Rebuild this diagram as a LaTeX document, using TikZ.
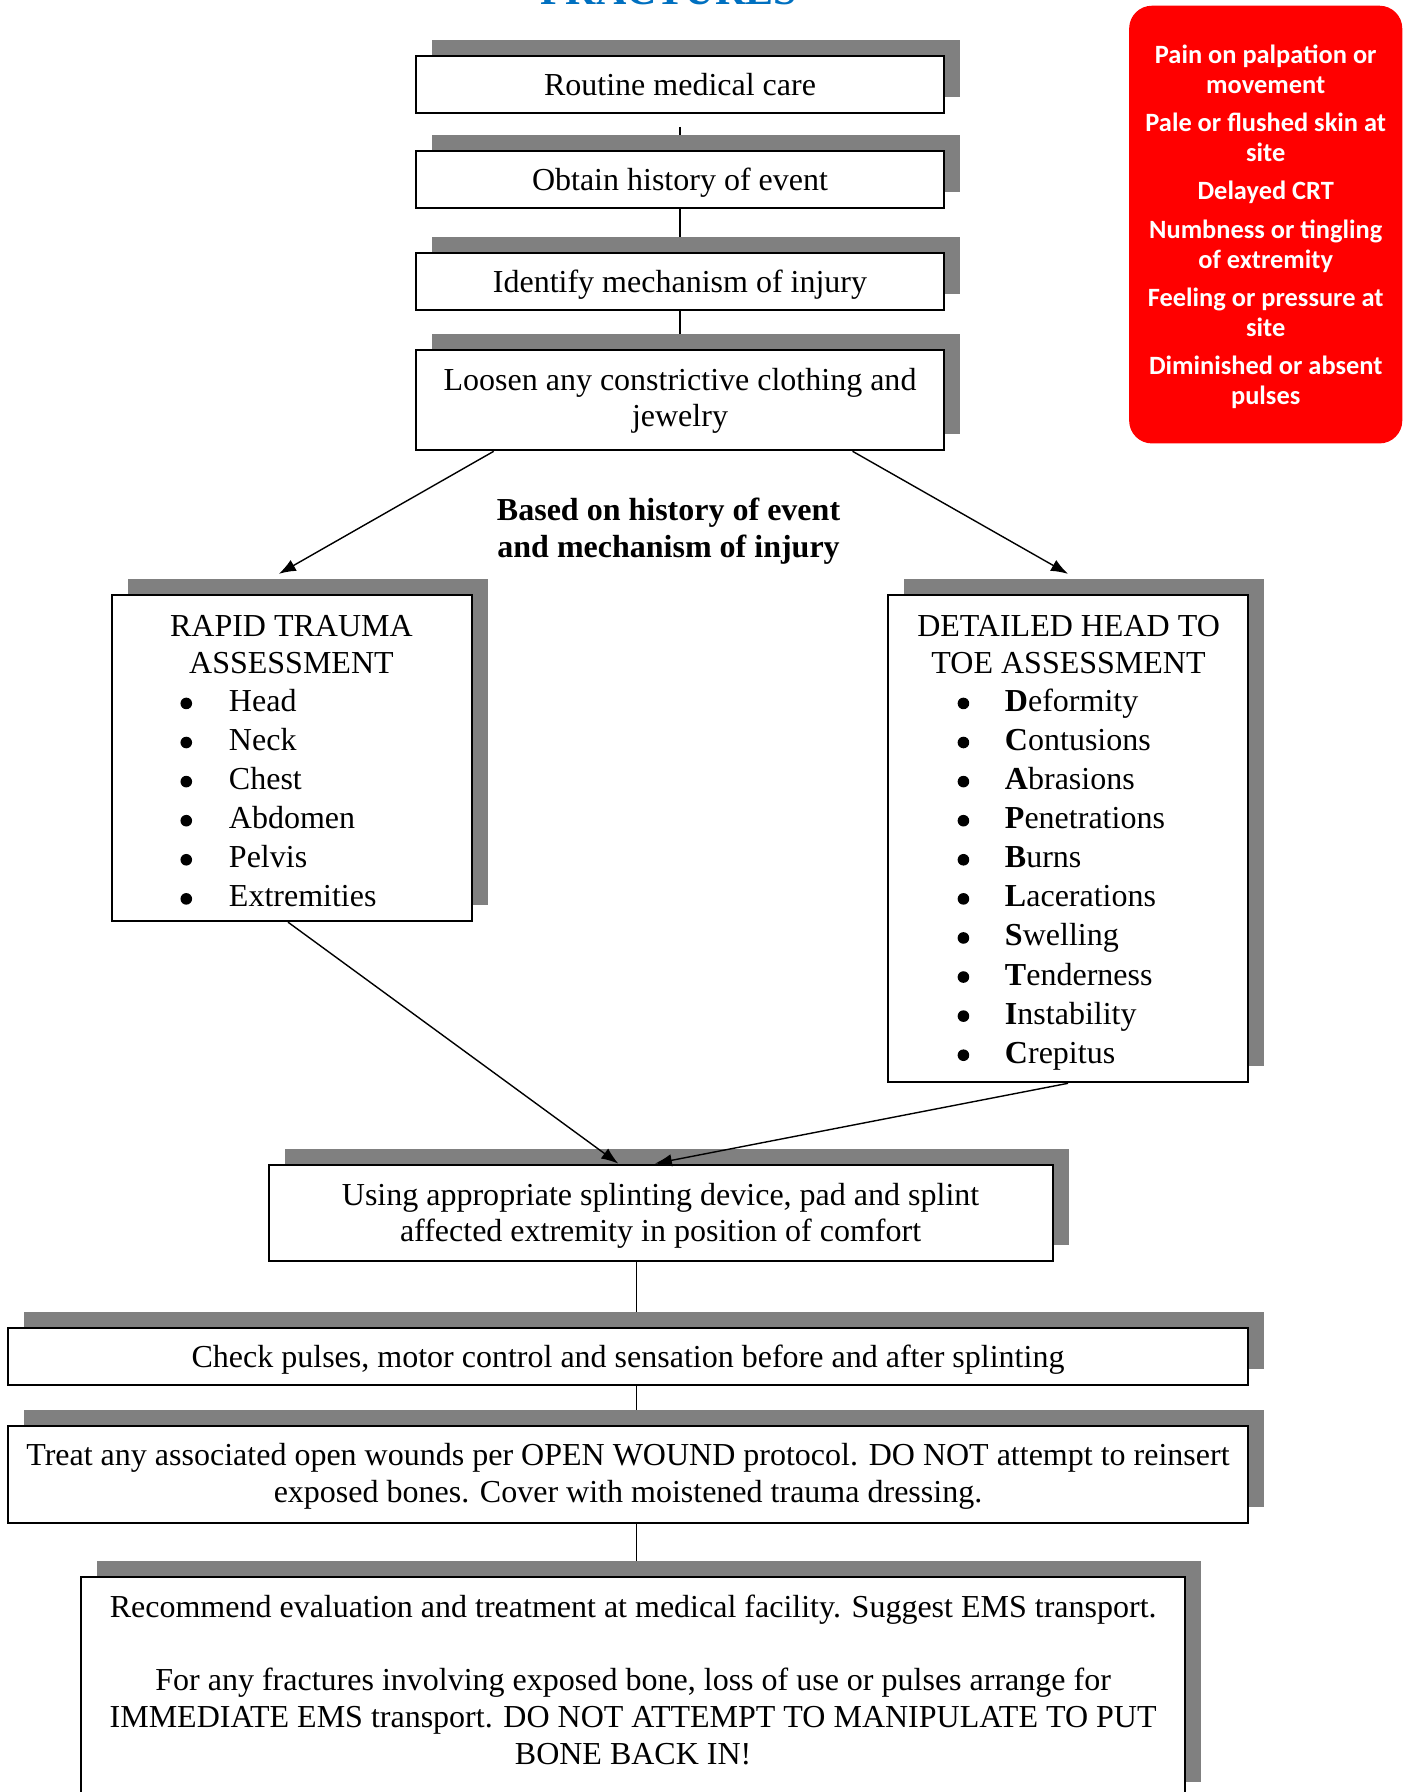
\documentclass[tikz,border=0pt]{standalone}
\usepackage{fontspec}
\setmainfont{Liberation Serif}
\newfontfamily\calibfont{Carlito}
\usetikzlibrary{shadows,arrows.meta,backgrounds}
\definecolor{shadowgray}{HTML}{808080}
\definecolor{titleblue}{HTML}{0070C0}
\definecolor{alertred}{HTML}{FF0000}
\newcommand\pxu{0.5713pt}
\begin{document}
\begin{tikzpicture}[x=0.5713pt,y=-0.5713pt,
  box/.style={draw=black,line width=1pt,fill=white,inner sep=0pt,
    general shadow={fill=shadowgray,shadow xshift=8pt,shadow yshift=8pt}},
  txt/.style={inner sep=0pt,anchor=base,font=\fontsize{16}{18.28}\selectfont},
  bul/.style={circle,fill=black,inner sep=0pt,minimum size=5.8pt},
  conn/.style={draw=black,line width=0.7pt},
  arr/.style={draw=black,line width=0.7pt,-{Latex[length=8.5pt,width=6.2pt]}}]
\useasboundingbox (0,0) rectangle (1234,1568);

% title (cut off at the top, as in the reference)
\node[inner sep=0pt,anchor=base,text=titleblue,font=\fontsize{21}{24}\selectfont\bfseries] (title) at (585,4) {FRACTURES};

% main chain
\node[box,minimum width=462*\pxu,minimum height=50*\pxu] (b1) at (595,74) {};
\node[txt] (b1a) at (595,83.5) {Routine medical care};
\node[box,minimum width=462*\pxu,minimum height=50*\pxu] (b2) at (595,157) {};
\node[txt] (b2a) at (595,166.5) {Obtain history of event};
\node[box,minimum width=462*\pxu,minimum height=50*\pxu] (b3) at (595,246) {};
\node[txt] (b3a) at (595,255.5) {Identify mechanism of injury};
\node[box,minimum width=462*\pxu,minimum height=88*\pxu] (b4) at (595,350) {};
\node[txt] (b4a) at (595,341.5) {Loosen any constrictive clothing and};
\node[txt] (b4b) at (595,373.5) {jewelry};

\node[txt,font=\fontsize{16}{18.28}\selectfont\bfseries] (based1) at (585,455.5) {Based on history of event};
\node[txt,font=\fontsize{16}{18.28}\selectfont\bfseries] (based2) at (585,487.5) {and mechanism of injury};

% rapid trauma assessment
\node[box,minimum width=315*\pxu,minimum height=285*\pxu] (rapid) at (255.5,663.5) {};
\node[txt] (rt1) at (255,557) {RAPID TRAUMA};
\node[txt] (rt2) at (255,589) {ASSESSMENT};
\foreach \t [count=\k from 0] in {Head,Neck,Chest,Abdomen,Pelvis,Extremities}{
  \node[bul] (rb\k) at (163,615.5+34.2*\k) {};
  \node[txt,anchor=base west] (ri\k) at (200,622.5+34.2*\k) {\t};
}

% detailed head to toe assessment
\node[box,minimum width=315*\pxu,minimum height=426*\pxu] (detail) at (934.5,734) {};
\node[txt] (dt1) at (935,557) {DETAILED HEAD TO};
\node[txt] (dt2) at (935,589) {TOE ASSESSMENT};
\foreach \a/\b [count=\k from 0] in {D/eformity,C/ontusions,A/brasions,P/enetrations,B/urns,L/acerations,S/welling,T/enderness,I/nstability,C/repitus}{
  \node[bul] (db\k) at (843,615.5+34.2*\k) {};
  \node[txt,anchor=base west] (di\k) at (879,622.5+34.2*\k) {{\bfseries\a}\b};
}

% lower chain
\node[box,minimum width=686*\pxu,minimum height=84*\pxu] (splint) at (578,1061) {};
\node[txt] (sp1) at (578,1054.5) {Using appropriate splinting device, pad and splint};
\node[txt] (sp2) at (578,1086.5) {affected extremity in position of comfort};
\node[box,minimum width=1085*\pxu,minimum height=50*\pxu] (chk) at (549.5,1187) {};
\node[txt] (chk1) at (549.5,1196.5) {Check pulses, motor control and sensation before and after splinting};
\node[box,minimum width=1085*\pxu,minimum height=85*\pxu] (treat) at (549.5,1290.5) {};
\node[txt] (tr1) at (549.5,1282.5) {Treat any associated open wounds per OPEN WOUND protocol. DO NOT attempt to reinsert};
\node[txt] (tr2) at (549.5,1315) {exposed bones. Cover with moistened trauma dressing.};
\node[box,minimum width=966*\pxu,minimum height=193*\pxu] (rec) at (554,1476.5) {};
\node[txt] (rec1) at (554,1415) {Recommend evaluation and treatment at medical facility. Suggest EMS transport.};
\node[txt] (rec2) at (554,1479) {For any fractures involving exposed bone, loss of use or pulses arrange for};
\node[txt] (rec3) at (554,1511.5) {IMMEDIATE EMS transport. DO NOT ATTEMPT TO MANIPULATE TO PUT};
\node[txt] (rec4) at (554,1543.5) {BONE BACK IN!};

% signs box
\node[fill=alertred,rounded corners=11.4pt,minimum width=239*\pxu,minimum height=383*\pxu,
  inner sep=0pt] (signs) at (1107.5,196.5) {};
\node[inner sep=0pt,text=white,align=center,
  font=\calibfont\bfseries\fontsize{13.2}{14.85}\selectfont] (signstext) at (1107.5,198.5)
  {Pain on palpation or\\movement\\[4.4pt]Pale or flushed skin at\\site\\[4.4pt]Delayed CRT\\[4.4pt]Numbness or tingling\\of extremity\\[4.4pt]Feeling or pressure at\\site\\[4.4pt]Diminished or absent\\pulses};

% vertical connectors behind the shadows
\coordinate (t1) at (595,111);
\coordinate (c1) at (557,0);
\begin{scope}[on background layer]
  \draw[conn] (t1) -- (b2.north);
  \draw[conn] (b2.south) -- (b3.north);
  \draw[conn] (b3.south) -- (b4.north);
  \draw[conn] (splint.south -| c1) -- (chk.north -| c1);
  \draw[conn] (chk.south -| c1) -- (treat.north -| c1);
  \draw[conn] (treat.south -| c1) -- (rec.north -| c1);
\end{scope}

% arrows
\draw[arr] ([xshift=-163*\pxu]b4.south) -- ([xshift=-11.5*\pxu,yshift=18*\pxu]rapid.north);
\draw[arr] ([xshift=151*\pxu]b4.south) -- ([yshift=18*\pxu]detail.north);
\draw[arr] ([xshift=-3.5*\pxu]rapid.south) -- ([xshift=-37*\pxu]splint.north);
\draw[arr] (detail.south) -- ([xshift=-5*\pxu]splint.north);
\end{tikzpicture}
\end{document}
